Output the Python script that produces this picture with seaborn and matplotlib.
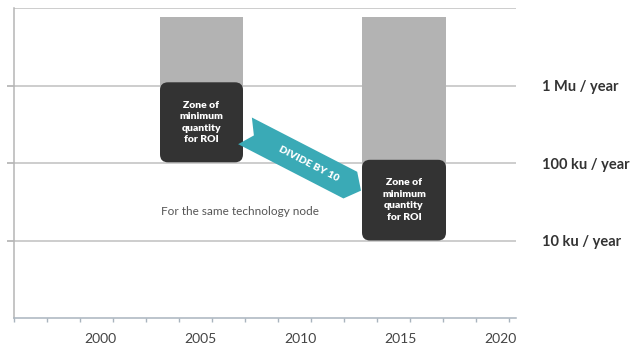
import numpy as np
import pandas as pd
import matplotlib
matplotlib.use("Agg")
import matplotlib.pyplot as plt
from matplotlib.patches import FancyBboxPatch, Polygon
from matplotlib.transforms import IdentityTransform
from matplotlib.ticker import FixedLocator, NullFormatter
import seaborn as sns

# ---- data ----
zone_labels = ["Zone of\nminimum\nquantity\nfor ROI", "Zone of\nminimum\nquantity\nfor ROI"]
zone_start = [2003.0, 2013.1]
zone_end = [2007.15, 2017.3]
zone_top = [7.6e6, 7.6e6]          # top of grey bar
zone_box_high = [1.1e6, 1.1e5]     # top of dark box
zone_box_low = [1.02e5, 1.0e4]     # bottom of dark box
year_ticks = [2000, 2005, 2010, 2015, 2020]
level_values = [1e4, 1e5, 1e6]
level_labels = ["10 ku / year", "100 ku / year", "1 Mu / year"]
grid_values = [1e4, 1e5, 1e6, 1e7]
arrow_label = "DIVIDE BY 10"
note_text = "For the same technology node"

sns.set_theme(style="white")
plt.rcParams["font.family"] = ["Lato", "DejaVu Sans"]

W, H, DPI = 634, 349, 100
fig = plt.figure(figsize=(W / DPI, H / DPI), dpi=DPI)
ax = fig.add_axes([14 / W, 1 - 318 / H, (516 - 14) / W, (318 - 8) / H])
ax.set_yscale("log")
ax.set_xlim(1995.7, 2020.8)
ax.set_ylim(1e3, 1e7)

# grid lines
for g in grid_values:
    ax.axhline(g, color="#c9c9c9", lw=1.3, zorder=0)

df = pd.DataFrame({"start": zone_start, "end": zone_end, "top": zone_top,
                   "hi": zone_box_high, "lo": zone_box_low})
df["center"] = (df["start"] + df["end"]) / 2
df["width"] = df["end"] - df["start"]
df["mid"] = np.sqrt(df["hi"] * df["lo"])

# grey bars
ax.bar(df["center"], df["top"] - df["mid"], bottom=df["mid"], width=df["width"],
       color="#b3b3b3", edgecolor="none", zorder=2)

fig.canvas.draw()
tr = ax.transData
# dark rounded boxes
for i, r in df.iterrows():
    x0, y0 = tr.transform((r["start"], r["lo"]))
    x1, y1 = tr.transform((r["end"], r["hi"]))
    rad = 8
    box = FancyBboxPatch((x0 + rad, y0 + rad), (x1 - x0) - 2 * rad, (y1 - y0) - 2 * rad,
                         boxstyle=f"round,pad={rad},rounding_size={rad}",
                         transform=IdentityTransform(), facecolor="#333333",
                         edgecolor="none", zorder=3)
    ax.add_artist(box)
    ax.text(r["center"], r["mid"], zone_labels[i], ha="center", va="center",
            color="white", fontsize=7.5, fontweight="heavy", linespacing=1.35, zorder=4)

# ribbon arrow between the two boxes
p0 = np.array(tr.transform((df["end"][0] + 0.1, 2.6e5)))
p1 = np.array(tr.transform((df["start"][1] - 0.05, 4.4e4)))
d = p1 - p0
L = np.hypot(*d)
u = d / L
n = np.array([-u[1], u[0]])
w = 15.0
head = 12.0
notch = 10.0
pts = [p0 + n * w, p1 - u * head + n * w, p1, p1 - u * head - n * w,
       p0 - n * w, p0 + u * notch]
ax.add_artist(Polygon(pts, closed=True, transform=IdentityTransform(),
                      facecolor="#3aaab6", edgecolor="none", zorder=3))
mid = p0 + d * 0.55
ang = np.degrees(np.arctan2(d[1], d[0]))
fig.text(mid[0] / W, mid[1] / H, arrow_label, rotation=ang, rotation_mode="anchor",
         ha="center", va="center", color="white", fontsize=7.5, fontweight="heavy")

ax.text(2007.0, 2.4e4, note_text, ha="center", va="center", color="#555555", fontsize=8.5)

# axes styling
for s in ["top", "right"]:
    ax.spines[s].set_visible(False)
ax.spines["left"].set_color("#b5b5b5")
ax.spines["bottom"].set_color("#a9b4be")
ax.spines["left"].set_linewidth(1.1)
ax.spines["bottom"].set_linewidth(1.1)

ax.set_xticks(year_ticks)
ax.set_xticklabels([str(y) for y in year_ticks])
ax.xaxis.set_minor_locator(FixedLocator(np.arange(1995.7, 2020.9, 1.65)))
ax.tick_params(axis="x", which="major", bottom=False, labelsize=10, colors="#444444", pad=5)
ax.tick_params(axis="x", which="minor", bottom=True, length=3, color="#a9b4be")

ax.yaxis.set_minor_locator(FixedLocator([]))
ax.yaxis.set_minor_formatter(NullFormatter())
ax.set_yticks(level_values)
ax.set_yticklabels(level_labels)
ax.tick_params(axis="y", which="major", left=True, right=False, labelleft=False,
               labelright=True, length=5, color="#b5b5b5", pad=14)
for lab in ax.get_yticklabels():
    lab.set_fontweight("bold")
    lab.set_fontsize(10.5)
    lab.set_color("#333333")

fig.savefig("out.png", dpi=DPI)
